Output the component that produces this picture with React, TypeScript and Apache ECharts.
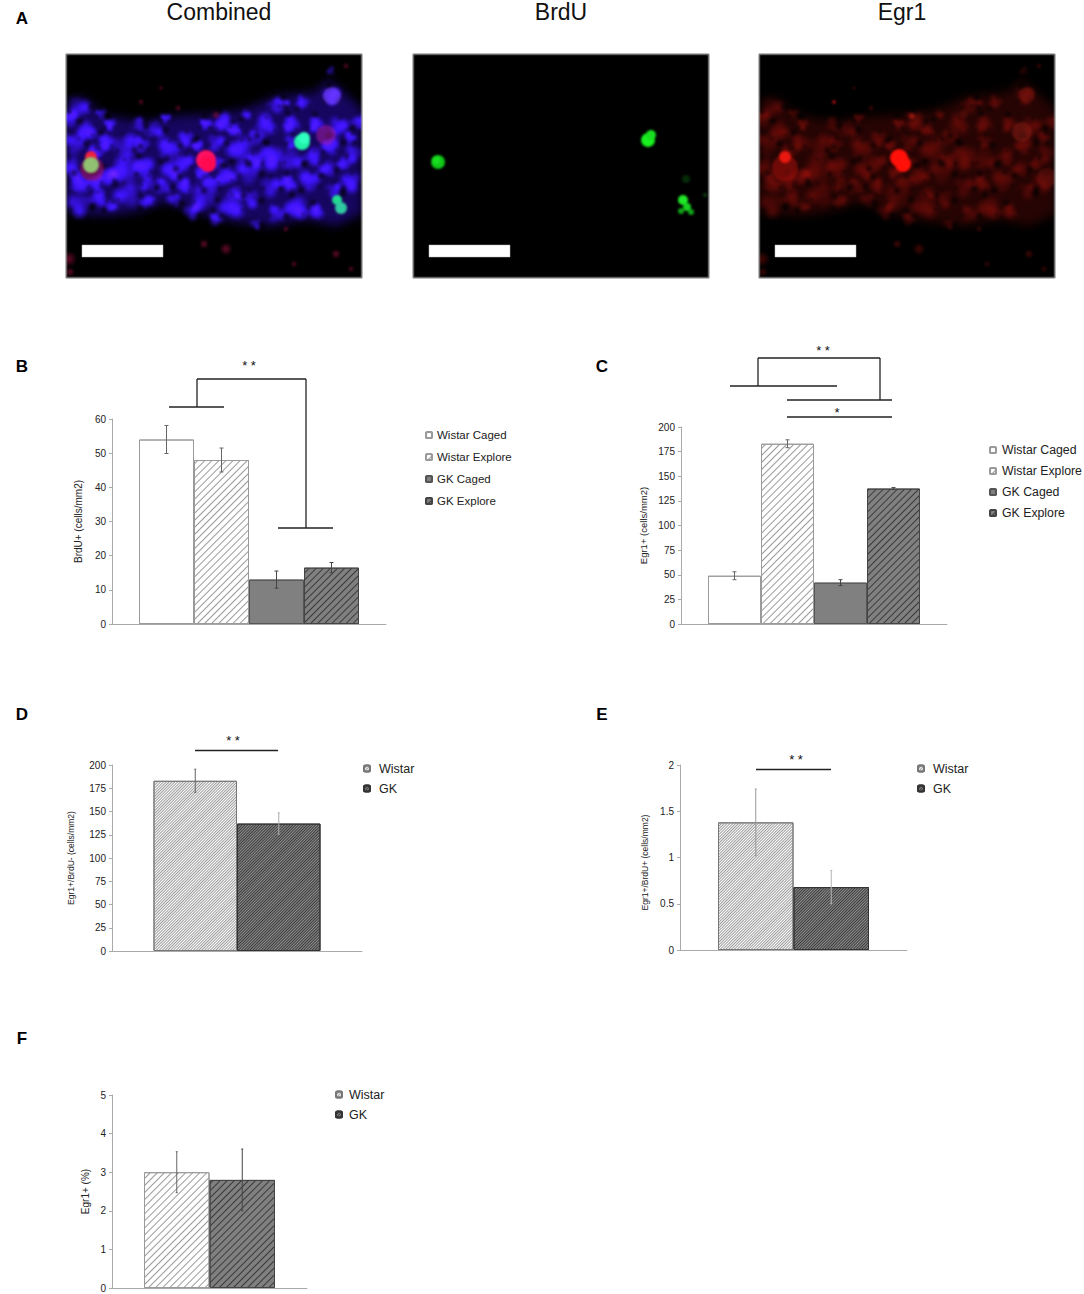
import React, { useEffect, useRef } from "react";
import * as echarts from "echarts";

const FONT = "'Liberation Sans', Arial, sans-serif";

// ---- data ----
const fourGroups = ["Wistar Caged", "Wistar Explore", "GK Caged", "GK Explore"];
const twoGroups = ["Wistar", "GK"];

const brduValues = [54, 48, 13, 16.5];
const brduErrors = [4.1, 3.5, 2.5, 1.5];
const egr1Values = [49, 183, 42, 137.5];
const egr1Errors = [4, 4, 3, 1];
const egr1BrduNegValues = [183, 137];
const egr1BrduNegErrors = [12.5, 11.5];
const egr1BrduPosValues = [1.38, 0.68];
const egr1BrduPosErrors = [0.36, 0.18];
const egr1PctValues = [3, 2.8];
const egr1PctErrors = [0.53, 0.8];

// micrograph texture: cell bodies in panel pixels [x, y, r]
const cells: number[][] = [
  [12, 53, 13], [3, 65, 10], [20, 77, 11], [8, 90, 12], [4, 112, 11], [14, 130, 12], [13, 151, 13], [32, 145, 10],
  [40, 88, 10], [60, 92, 14], [58, 116, 15], [42, 122, 10], [61, 141, 14], [80, 146, 9], [78, 113, 12], [89, 75, 10],
  [103, 96, 13], [106, 116, 12], [96, 132, 10], [120, 84, 9], [118, 132, 9], [137, 144, 14], [125, 158, 9], [158, 68, 11],
  [150, 88, 10], [175, 96, 14], [160, 122, 11], [182, 118, 13], [165, 151, 14], [150, 165, 8], [185, 145, 10], [199, 72, 12],
  [206, 103, 14], [209, 51, 9], [237, 48, 8], [266, 42, 10], [265, 17, 5], [272, 72, 11], [265, 92, 10], [227, 106, 12],
  [244, 127, 12], [230, 154, 13], [210, 160, 10], [285, 127, 11], [250, 158, 9], [288, 100, 10], [292, 68, 8], [225, 70, 10],
  [205, 132, 11], [262, 115, 9], [135, 118, 8], [35, 60, 6], [180, 60, 6], [140, 70, 7], [190, 170, 6],
  [28, 100, 9], [44, 70, 7], [72, 70, 8], [76, 90, 9], [30, 128, 9], [82, 130, 9], [118, 108, 10], [132, 92, 7],
  [150, 108, 9], [146, 130, 10], [168, 76, 8], [190, 84, 9], [190, 104, 9], [222, 130, 10], [226, 88, 8], [246, 104, 10],
  [250, 70, 9], [268, 136, 9], [278, 110, 8], [218, 50, 6], [108, 146, 8], [45, 152, 7], [100, 64, 6], [170, 138, 8], [284, 84, 7],
];
const tissueOutline: number[][] = [
  [0, 58], [15, 42], [40, 62], [80, 68], [110, 62], [150, 60], [180, 55], [210, 42], [250, 38], [262, 25], [280, 40], [296, 55],
  [296, 160], [270, 172], [240, 165], [205, 172], [170, 168], [135, 160], [100, 148], [70, 158], [40, 162], [15, 160], [0, 158],
];
const subOffsets: number[][] = [[0, 0, 0.7], [0.55, 0, 0.5], [-0.3, 0.5, 0.55], [-0.35, -0.45, 0.5]];
const faintSpecks: number[][] = [
  [95, 34, 1.5], [75, 48, 2], [150, 61, 3], [138, 190, 3], [228, 210, 2], [270, 200, 3], [3, 205, 5], [4, 218, 3], [112, 54, 2], [280, 12, 2], [220, 175, 2],
  [160, 195, 4], [285, 215, 2],
];
const combinedSpots: (number | string)[][] = [
  [26, 115, 12, "rgba(170,20,90,0.55)"], [25, 103, 6, "#f02040"], [25, 111, 8, "#90c070"], [140, 106, 10, "#ff1060"], [142, 110, 8, "#ff0a50"],
  [236, 88, 8, "#20f0a8"], [238, 84, 6, "#30ffc0"], [271, 146, 5, "#20d890"], [275, 154, 6, "#30c8a0"], [260, 81, 10, "rgba(180,30,170,0.5)"],
  [266, 42, 9, "rgba(120,70,255,0.6)"],
];
const brduSpots: (number | string)[][] = [
  [25, 108, 7, "#10c818"], [23, 106, 4, "#18e020"], [235, 86, 7, "#18f020"], [238, 81, 5, "#18e020"], [270, 146, 5, "#20e828"], [274, 153, 4, "#18d020"],
  [278, 158, 3, "#10a018"], [268, 157, 3, "#10a018"], [273, 125, 4, "#062a08"], [292, 141, 2, "#083c0c"],
];
const egr1Spots: (number | string)[][] = [
  [26, 114, 13, "rgba(160,15,10,0.6)"], [26, 103, 6, "#e81810"], [140, 104, 9, "#ff1008"], [144, 110, 8, "#ff1008"], [263, 78, 10, "rgba(140,30,20,0.55)"],
  [268, 41, 8, "rgba(120,20,15,0.55)"], [75, 48, 1.5, "#c01010"], [153, 62, 3, "rgba(170,25,15,0.7)"], [205, 60, 4, "rgba(100,15,10,0.5)"], [288, 124, 10, "rgba(120,20,15,0.4)"],
];

function blob(c: CanvasRenderingContext2D, x: number, y: number, R: number, rgb: string, a: number) {
  const g = c.createRadialGradient(x, y, 0, x, y, R);
  g.addColorStop(0, `rgba(${rgb},${a})`);
  g.addColorStop(1, `rgba(${rgb},0)`);
  c.fillStyle = g;
  c.beginPath(); c.arc(x, y, R, 0, Math.PI * 2); c.fill();
}

function micrograph(rgb: string | null, haze: string | null, strength: number, speck: string | null, spots: (number | string)[][]): string {
  const w = 296, h = 224;
  const layer = document.createElement("canvas");
  layer.width = w; layer.height = h;
  const c = layer.getContext("2d")!;
  c.fillStyle = "#000"; c.fillRect(0, 0, w, h);
  if (rgb && haze) {
    c.save();
    c.filter = "blur(5px)";
    c.fillStyle = haze;
    c.beginPath();
    tissueOutline.forEach(([x, y], i) => (i ? c.lineTo(x, y) : c.moveTo(x, y)));
    c.closePath(); c.fill();
    c.restore();
    c.globalCompositeOperation = "lighter";
    cells.forEach(([x, y, r], i) => {
      const turn = i * 1.3;
      subOffsets.forEach(([dx, dy, k], j) => {
        const ox = dx * Math.cos(turn) - dy * Math.sin(turn);
        const oy = dx * Math.sin(turn) + dy * Math.cos(turn);
        blob(c, x + ox * r, y + oy * r, r * k * 1.4, rgb, strength * (0.35 + 0.3 * ((i + j * 2) % 3)));
      });
    });
    c.globalCompositeOperation = "source-over";
    cells.forEach(([x, y, r], i) => {
      const turn = i * 2.1;
      blob(c, x + Math.cos(turn) * r * 1.05, y + Math.sin(turn) * r * 1.05, 5, "0,0,0", 0.7);
      blob(c, x + Math.cos(turn + 2.6) * r * 0.7, y + Math.sin(turn + 2.6) * r * 0.7, 3, "0,0,0", 0.45);
      blob(c, x + Math.cos(turn + 4.4) * r * 0.9, y + Math.sin(turn + 4.4) * r * 0.9, 3, "0,0,0", 0.4);
    });
  }
  if (speck) faintSpecks.forEach(([x, y, r]) => blob(c, x, y, r * 1.6, speck, 0.7));
  spots.forEach(([x, y, r, col]) => {
    c.fillStyle = col as string;
    c.beginPath(); c.arc(x as number, y as number, r as number, 0, Math.PI * 2); c.fill();
  });
  const out = document.createElement("canvas");
  out.width = w; out.height = h;
  const o = out.getContext("2d")!;
  o.filter = "blur(1.1px)";
  o.drawImage(layer, 0, 0);
  return out.toDataURL();
}

const hatch = (color: string, gap: number, thick = 1) => ({
  symbol: "rect",
  symbolSize: 1,
  color,
  dashArrayX: [1, 0],
  dashArrayY: [thick, gap],
  rotation: -Math.PI / 4,
});

const wideW = { color: "#fff", borderColor: "#9a9a9a", borderWidth: 1, decal: hatch("#9a9a9a", 4) };
const wideG = { color: "#808080", borderColor: "#444", borderWidth: 1, decal: hatch("#3a3a3a", 4) };
const plainW = { color: "#fff", borderColor: "#9a9a9a", borderWidth: 1, decal: { symbol: "none" } };
const plainG = { color: "#808080", borderColor: "#555", borderWidth: 1, decal: { symbol: "none" } };
const denseW = { color: "#fff", borderColor: "#777", borderWidth: 1, decal: hatch("#9c9c9c", 1) };
const denseG = { color: "#8c8c8c", borderColor: "#333", borderWidth: 1, decal: hatch("#3c3c3c", 1) };

type Panel = {
  key: string; left: number; top: number; width: number; height: number; max: number; step: number;
  names: string[]; values: number[]; errors: number[]; errColors: string[]; styles: any[]; barW: number; yName: string; nameGap: number; nameSize: number; namePad: number[];
  legendLeft: number; legendTop: number; legendGap: number; legendSize: number; legendPad: number; capW: number;
};

const panels: Panel[] = [
  { key: "B", left: 112, top: 419, width: 274, height: 205, max: 60, step: 10, names: fourGroups, values: brduValues, errors: brduErrors, errColors: ["#666", "#666", "#444", "#444"], styles: [plainW, wideW, plainG, wideG], barW: 55, yName: "BrdU+ (cells/mm2)", nameGap: 29, nameSize: 10, namePad: [0, 0, 0, 0], legendLeft: 425, legendTop: 429, legendGap: 10, legendSize: 11.5, legendPad: 0, capW: 4 },
  { key: "C", left: 681, top: 427, width: 266, height: 197, max: 200, step: 25, names: fourGroups, values: egr1Values, errors: egr1Errors, errColors: ["#666", "#666", "#444", "#444"], styles: [plainW, wideW, plainG, wideG], barW: 53, yName: "Egr1+ (cells/mm2)", nameGap: 33, nameSize: 9.5, namePad: [0, 0, 0, 0], legendLeft: 989, legendTop: 444, legendGap: 9, legendSize: 12.3, legendPad: 1, capW: 4 },
  { key: "D", left: 112, top: 765, width: 250, height: 186, max: 200, step: 25, names: twoGroups, values: egr1BrduNegValues, errors: egr1BrduNegErrors, errColors: ["#666", "#aaa"], styles: [denseW, denseG], barW: 83.5, yName: "Egr1+/BrdU- (cells/mm2)", nameGap: 37, nameSize: 8.5, namePad: [0, 0, 0, 0], legendLeft: 363, legendTop: 762, legendGap: 7, legendSize: 12.5, legendPad: 4, capW: 2 },
  { key: "E", left: 680, top: 765, width: 227, height: 185, max: 2, step: 0.5, names: twoGroups, values: egr1BrduPosValues, errors: egr1BrduPosErrors, errColors: ["#999", "#b5b5b5"], styles: [denseW, denseG], barW: 75.5, yName: "Egr1+/BrdU+ (cells/mm2)", nameGap: 31, nameSize: 8.5, namePad: [0, 10, 0, 0], legendLeft: 917, legendTop: 762, legendGap: 7, legendSize: 12.5, legendPad: 4, capW: 2 },
  { key: "F", left: 112, top: 1095, width: 195, height: 193, max: 5, step: 1, names: twoGroups, values: egr1PctValues, errors: egr1PctErrors, errColors: ["#666", "#444"], styles: [wideW, wideG], barW: 65.5, yName: "Egr1+ (%)", nameGap: 22, nameSize: 10, namePad: [0, 0, 0, 0], legendLeft: 335, legendTop: 1088, legendGap: 7, legendSize: 12.5, legendPad: 2, capW: 2 },
];

const line = (x1: number, y1: number, x2: number, y2: number, stroke = "#222", lineWidth = 1.3) => ({
  type: "line", silent: true, shape: { x1, y1, x2, y2 }, style: { stroke, lineWidth },
});
const label = (text: string, x: number, y: number, fontSize: number, fontWeight = "normal", fill = "#111") => ({
  type: "text", silent: true, x, y,
  style: { text, x: 0, y: 0, fontSize, fontWeight, fontFamily: FONT, fill, textAlign: "center", textVerticalAlign: "middle" },
});

const bracketLines = [
  line(169, 407, 224, 407), line(197, 379, 197, 407), line(197, 379, 306, 379), line(306, 379, 306, 528), line(278, 528, 333, 528),
  line(730, 386, 837, 386), line(758, 358, 758, 386), line(758, 358, 880, 358), line(880, 358, 880, 400), line(787, 400, 892, 400), line(787, 417, 892, 417),
  line(195, 750.5, 278, 750.5), line(756, 769.5, 831, 769.5),
];
const stars = [
  label("* *", 249, 365, 13), label("* *", 823, 350, 13), label("*", 837, 412, 13), label("* *", 233, 740, 13), label("* *", 796, 759, 13),
];
const panelLetters = [
  label("A", 22, 18, 17, "bold", "#000"), label("B", 22, 366, 17, "bold", "#000"), label("C", 602, 366, 17, "bold", "#000"),
  label("D", 22, 714, 17, "bold", "#000"), label("E", 602, 714, 17, "bold", "#000"), label("F", 22, 1038, 17, "bold", "#000"),
];
const titles = [label("Combined", 219, 12, 23), label("BrdU", 561, 12, 23), label("Egr1", 902, 12, 23)];
const imageLefts = [66, 413, 759];

export default function App() {
  const ref = useRef<HTMLDivElement>(null);
  useEffect(() => {
    document.body.style.margin = "0";
    const chart = echarts.init(ref.current!, undefined, { renderer: "svg" });
    const images = [
      micrograph("60,20,240", "rgb(22,6,95)", 0.75, "150,15,60", combinedSpots),
      micrograph(null, null, 0, null, brduSpots),
      micrograph("120,12,8", "rgb(38,4,3)", 0.42, "100,10,8", egr1Spots),
    ];
    const graphicElements: any[] = [
      ...images.map((image, i) => ({
        type: "image", silent: true, x: imageLefts[i], y: 54,
        style: { image, x: 0, y: 0, width: 296, height: 224 },
      })),
      ...imageLefts.map((x) => ({
        type: "rect", silent: true, shape: { x, y: 54, width: 296, height: 224 },
        style: { fill: "none", stroke: "#777", lineWidth: 1 },
      })),
      ...imageLefts.map((x) => ({
        type: "rect", silent: true, shape: { x: x + 16, y: 245, width: 81, height: 12 },
        style: { fill: "#fff", stroke: "#bbb", lineWidth: 0.5 },
      })),
      ...bracketLines, ...stars, ...panelLetters, ...titles,
    ];
    const series: any[] = [];
    panels.forEach((p, gi) => {
      p.names.forEach((name, i) => {
        series.push({
          type: "bar", id: p.key + name, name, xAxisIndex: gi, yAxisIndex: gi,
          data: [p.values[i]], barWidth: p.barW, barGap: 0, itemStyle: p.styles[i], silent: true,
        });
      });
      series.push({
        type: "custom", id: p.key + "-err", xAxisIndex: gi, yAxisIndex: gi, silent: true, z: 5,
        data: p.values.map((v, i) => [0, v - p.errors[i], v + p.errors[i], i]),
        encode: { x: 0, y: [1, 2] },
        renderItem: (_: any, api: any) => {
          const idx = api.value(3);
          const base = api.coord([0, api.value(1)]);
          const top = api.coord([0, api.value(2)]);
          const x = base[0] + (idx - (p.values.length - 1) / 2) * p.barW;
          const st = { stroke: p.errColors[idx], lineWidth: 1 };
          return {
            type: "group",
            children: [
              { type: "line", shape: { x1: x, y1: base[1], x2: x, y2: top[1] }, style: st },
              { type: "line", shape: { x1: x - p.capW / 2, y1: base[1], x2: x + p.capW / 2, y2: base[1] }, style: st },
              { type: "line", shape: { x1: x - p.capW / 2, y1: top[1], x2: x + p.capW / 2, y2: top[1] }, style: st },
            ],
          };
        },
      });
    });
    chart.setOption({
      animation: false,
      backgroundColor: "#fff",
      textStyle: { fontFamily: FONT },
      aria: { enabled: false },
      tooltip: { show: false },
      grid: panels.map((p) => ({ left: p.left, top: p.top, width: p.width, height: p.height, outerBoundsMode: "none", containLabel: false })),
      xAxis: panels.map((p, i) => ({
        type: "category", gridIndex: i, data: [p.key], boundaryGap: true,
        axisLine: { show: true, lineStyle: { color: "#aaa", width: 1 } }, axisTick: { show: false }, axisLabel: { show: false }, splitLine: { show: false },
      })),
      yAxis: panels.map((p, i) => ({
        type: "value", gridIndex: i, min: 0, max: p.max, interval: p.step,
        name: p.yName, nameLocation: "middle", nameGap: p.nameGap, nameRotate: 90,
        nameTextStyle: { fontSize: p.nameSize, color: "#222", fontFamily: FONT, padding: p.namePad },
        axisLine: { show: true, lineStyle: { color: "#aaa", width: 1 } },
        axisTick: { show: true, length: 3, inside: false, lineStyle: { color: "#aaa" } },
        axisLabel: { show: true, fontSize: 10, color: "#222", margin: 6, fontFamily: FONT, showMinLabel: true, showMaxLabel: true },
        splitLine: { show: false },
      })),
      legend: panels.map((p) => ({
        show: true, orient: "vertical", left: p.legendLeft, top: p.legendTop, padding: 0,
        itemWidth: 6, itemHeight: 6, itemGap: p.legendGap, icon: "roundRect", selectedMode: false,
        data: p.names,
        textStyle: { fontSize: p.legendSize, color: "#222", fontFamily: FONT, padding: [0, 0, 0, p.legendPad] },
      })),
      series,
      graphic: { elements: graphicElements },
    });
    return () => chart.dispose();
  }, []);
  return <div ref={ref} style={{ width: 1084, height: 1294 }} />;
}
